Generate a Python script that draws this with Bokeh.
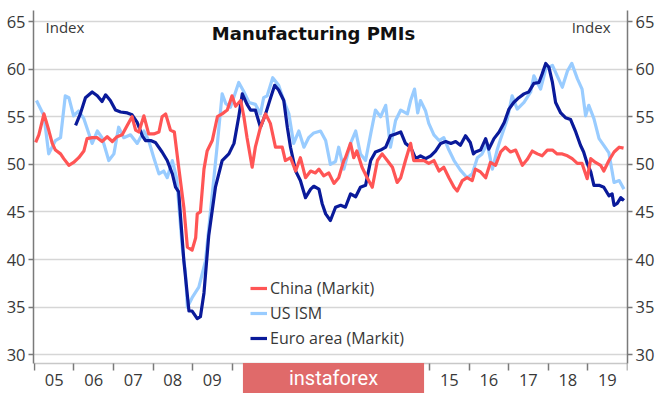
from bokeh.plotting import figure
from bokeh.models import (Range1d, LinearAxis, FixedTicker, Label, Legend, LegendItem)
from bokeh.embed import file_html
from bokeh.resources import INLINE

# ---------------- data ----------------
us_t = [2005.05, 2005.24, 2005.36, 2005.53, 2005.66, 2005.78, 2005.87, 2005.99, 2006.12, 2006.25,
        2006.46, 2006.59, 2006.71, 2006.88, 2007.01, 2007.13, 2007.26, 2007.43, 2007.60, 2007.77,
        2007.89, 2008.02, 2008.15, 2008.27, 2008.36, 2008.49, 2008.60, 2008.74, 2008.82, 2008.87,
        2008.99, 2009.16, 2009.33, 2009.50, 2009.63, 2009.75, 2009.84, 2009.96, 2010.17, 2010.29,
        2010.43, 2010.59, 2010.72, 2010.80, 2010.89, 2011.03, 2011.18, 2011.31, 2011.44, 2011.56,
        2011.69, 2011.82, 2011.94, 2012.07, 2012.24, 2012.37, 2012.49, 2012.62, 2012.70, 2012.83,
        2013.00, 2013.13, 2013.25, 2013.38, 2013.51, 2013.63, 2013.76, 2013.89, 2014.01, 2014.14,
        2014.27, 2014.44, 2014.52, 2014.62, 2014.70, 2014.77, 2014.90, 2014.98, 2015.11, 2015.24,
        2015.36, 2015.49, 2015.62, 2015.78, 2015.95, 2016.08, 2016.21, 2016.33, 2016.46, 2016.59,
        2016.71, 2016.80, 2016.97, 2017.09, 2017.22, 2017.39, 2017.56, 2017.64, 2017.81, 2017.94,
        2018.11, 2018.23, 2018.36, 2018.49, 2018.60, 2018.74, 2018.86, 2018.95, 2019.03, 2019.16,
        2019.29, 2019.41, 2019.54, 2019.67, 2019.80, 2019.92]
us_v = [56.7, 55.1, 51.1, 52.5, 52.8, 57.2, 57.0, 55.1, 55.6, 54.8,
        52.2, 53.5, 52.8, 50.4, 51.1, 53.9, 52.8, 53.1, 52.2, 53.5,
        52.5, 50.7, 49.0, 49.3, 48.6, 50.4, 48.5, 41.3, 38.7, 35.0,
        36.0, 37.1, 39.9, 46.9, 52.2, 57.4, 56.4, 56.0, 58.6, 57.7,
        56.5, 56.3, 55.3, 57.0, 57.2, 59.1, 58.3, 56.7, 55.3, 52.2,
        53.5, 51.8, 52.8, 53.3, 53.5, 52.5, 50.0, 50.3, 51.8, 49.5,
        52.2, 53.5, 51.1, 50.4, 53.2, 55.7, 55.0, 56.2, 51.8, 54.6,
        55.7, 55.3, 56.7, 57.9, 55.4, 56.7, 55.6, 54.3, 53.1, 52.5,
        52.8, 51.5, 50.4, 49.4, 48.6, 49.0, 50.7, 51.1, 52.2, 49.5,
        51.5, 52.7, 54.8, 57.2, 55.8, 56.5, 57.6, 59.3, 57.9, 60.0,
        60.4, 59.3, 58.1, 59.8, 60.6, 59.0, 57.9, 55.1, 56.2, 54.8,
        52.7, 52.0, 51.2, 48.1, 48.3, 47.4]

euro_t = [2006.04, 2006.16, 2006.29, 2006.46, 2006.59, 2006.71, 2006.80, 2006.92, 2007.05, 2007.18,
          2007.35, 2007.47, 2007.60, 2007.73, 2007.81, 2007.94, 2008.06, 2008.23, 2008.36, 2008.49,
          2008.57, 2008.65, 2008.78, 2008.91, 2008.99, 2009.12, 2009.20, 2009.29, 2009.41, 2009.58,
          2009.75, 2009.92, 2010.05, 2010.17, 2010.26, 2010.38, 2010.47, 2010.59, 2010.72, 2010.85,
          2010.97, 2011.08, 2011.18, 2011.31, 2011.40, 2011.48, 2011.61, 2011.73, 2011.86, 2011.99,
          2012.07, 2012.20, 2012.28, 2012.37, 2012.49, 2012.62, 2012.75, 2012.87, 2013.00, 2013.13,
          2013.25, 2013.38, 2013.51, 2013.63, 2013.76, 2013.89, 2014.01, 2014.14, 2014.27, 2014.39,
          2014.52, 2014.65, 2014.77, 2014.90, 2015.03, 2015.15, 2015.28, 2015.41, 2015.54, 2015.66,
          2015.78, 2015.91, 2016.03, 2016.11, 2016.16, 2016.29, 2016.42, 2016.50, 2016.63, 2016.76,
          2016.89, 2017.01, 2017.13, 2017.26, 2017.39, 2017.51, 2017.64, 2017.77, 2017.85, 2017.94,
          2018.02, 2018.11, 2018.19, 2018.32, 2018.44, 2018.57, 2018.70, 2018.82, 2018.90, 2018.99,
          2019.08, 2019.16, 2019.29, 2019.41, 2019.54, 2019.62, 2019.67, 2019.75, 2019.84, 2019.92]
euro_v = [54.1, 55.3, 57.0, 57.6, 57.2, 56.6, 57.3, 56.7, 55.7, 55.5,
          55.4, 55.2, 54.4, 53.0, 52.5, 52.5, 52.3, 51.3, 50.4, 49.0,
          47.6, 47.1, 39.9, 34.6, 34.6, 33.8, 34.0, 36.5, 42.5, 47.6,
          50.4, 51.1, 52.2, 55.0, 57.4, 56.3, 55.7, 55.7, 53.9, 55.3,
          56.9, 58.3, 57.8, 56.7, 53.9, 51.8, 49.3, 48.3, 46.5, 47.4,
          47.7, 47.4, 45.9, 44.8, 44.1, 45.5, 45.7, 45.5, 46.9, 46.6,
          47.6, 47.8, 50.4, 51.3, 51.5, 51.8, 53.0, 53.2, 53.4, 52.2,
          51.8, 50.6, 50.9, 50.6, 50.9, 51.4, 52.2, 52.4, 52.2, 52.4,
          52.0, 53.0, 52.3, 51.1, 51.3, 51.5, 52.7, 51.6, 52.7, 53.4,
          54.4, 55.8, 56.5, 57.0, 57.4, 57.6, 58.5, 58.6, 59.5, 60.6,
          60.2, 58.6, 56.5, 55.4, 54.9, 54.7, 53.4, 52.0, 51.3, 50.1,
          49.2, 47.8, 47.8, 47.6, 46.7, 46.9, 45.7, 45.9, 46.5, 46.2]

china_t = [2005.03, 2005.11, 2005.24, 2005.36, 2005.45, 2005.53, 2005.66, 2005.74, 2005.87, 2005.99,
           2006.12, 2006.25, 2006.33, 2006.46, 2006.59, 2006.71, 2006.84, 2006.97, 2007.09, 2007.22,
           2007.35, 2007.47, 2007.56, 2007.64, 2007.77, 2007.89, 2008.02, 2008.15, 2008.23, 2008.32,
           2008.44, 2008.54, 2008.65, 2008.78, 2008.87, 2008.99, 2009.08, 2009.12, 2009.20, 2009.29,
           2009.37, 2009.50, 2009.63, 2009.75, 2009.88, 2010.00, 2010.09, 2010.22, 2010.30, 2010.38,
           2010.51, 2010.59, 2010.72, 2010.85, 2010.97, 2011.10, 2011.27, 2011.35, 2011.48, 2011.61,
           2011.73, 2011.86, 2011.99, 2012.11, 2012.20, 2012.32, 2012.45, 2012.58, 2012.70, 2012.83,
           2012.87, 2013.00, 2013.08, 2013.16, 2013.29, 2013.42, 2013.55, 2013.68, 2013.80, 2013.93,
           2014.06, 2014.18, 2014.27, 2014.39, 2014.52, 2014.60, 2014.73, 2014.86, 2014.98, 2015.11,
           2015.24, 2015.36, 2015.49, 2015.62, 2015.70, 2015.83, 2015.95, 2016.08, 2016.16, 2016.29,
           2016.42, 2016.54, 2016.67, 2016.80, 2016.92, 2017.05, 2017.18, 2017.35, 2017.47, 2017.60,
           2017.73, 2017.85, 2017.98, 2018.11, 2018.23, 2018.36, 2018.49, 2018.61, 2018.74, 2018.86,
           2018.99, 2019.08, 2019.20, 2019.33, 2019.41, 2019.54, 2019.67, 2019.80, 2019.91]
china_v = [52.3, 53.1, 55.3, 53.6, 52.2, 51.5, 51.1, 50.6, 49.9, 50.2,
           50.7, 51.4, 52.7, 52.8, 52.8, 52.4, 52.9, 52.4, 52.9, 53.1,
           54.1, 55.0, 53.6, 53.4, 55.1, 53.2, 53.2, 53.4, 55.0, 55.3,
           53.6, 53.4, 49.7, 45.5, 41.3, 41.0, 42.3, 44.8, 45.0, 49.5,
           51.4, 52.5, 55.0, 55.3, 55.7, 57.2, 56.1, 56.7, 55.0, 52.8,
           49.7, 51.8, 53.9, 55.3, 54.3, 51.8, 51.8, 50.4, 50.7, 49.3,
           50.7, 48.6, 49.3, 49.1, 49.5, 48.8, 49.1, 48.0, 48.6, 50.4,
           50.7, 52.2, 50.7, 51.4, 49.7, 48.6, 47.6, 50.4, 51.1, 50.4,
           49.7, 48.1, 48.6, 50.4, 52.2, 50.4, 50.4, 50.4, 50.1, 50.4,
           49.3, 49.7, 48.6, 47.6, 47.2, 48.3, 48.6, 48.3, 49.5, 49.2,
           48.6, 50.2, 49.9, 51.3, 51.8, 51.3, 51.5, 49.9, 50.5, 51.4,
           51.1, 50.9, 51.5, 51.5, 51.1, 51.1, 50.9, 50.6, 50.1, 50.1,
           48.5, 50.6, 50.2, 49.9, 49.3, 50.4, 51.3, 51.8, 51.7]

y_ticks = [30, 35, 40, 45, 50, 55, 60, 65]
year_starts = list(range(2005, 2021))
year_labels = ["05", "06", "07", "08", "09", "10", "11", "12", "13", "14",
               "15", "16", "17", "18", "19"]

FONT = "Open Sans"
AXIS_GREY = "#7a7a7a"
TEXT = "#383838"
Y_TOP = 66.155
Y_AXIS = 29.086      # level at which the x axis line sits
Y_BOTTOM = 25.94     # bottom of the drawing area (room for the year labels)

p = figure(width=664, height=393, output_backend="svg", toolbar_location=None,
           x_range=Range1d(2004.975, 2020.01), y_range=Range1d(Y_BOTTOM, Y_TOP),
           min_border_left=33, min_border_right=37, min_border_top=10, min_border_bottom=0)
p.outline_line_color = None
p.background_fill_color = "white"
p.border_fill_color = "white"

p.xgrid.grid_line_color = None
p.ygrid.grid_line_color = "#d6d6d6"
p.ygrid.grid_line_width = 1.5

yt = FixedTicker(ticks=y_ticks)
p.yaxis.ticker = yt
p.ygrid.ticker = yt


def style_y(ax):
    ax.bounds = (Y_AXIS, Y_TOP)
    ax.axis_line_color = AXIS_GREY
    ax.axis_line_width = 1.5
    ax.major_tick_line_color = AXIS_GREY
    ax.major_tick_line_width = 1.5
    ax.major_tick_out = 5
    ax.major_tick_in = 0
    ax.minor_tick_line_color = None
    ax.major_label_text_font = FONT
    ax.major_label_text_font_size = "16.5px"
    ax.major_label_text_color = TEXT
    ax.major_label_standoff = 3


for ax in p.yaxis:
    style_y(ax)

ry = LinearAxis(ticker=FixedTicker(ticks=y_ticks))
style_y(ry)
p.add_layout(ry, "right")

mid_years = [y + 0.5 for y in year_starts[:-1]]
xt = FixedTicker(ticks=mid_years, minor_ticks=year_starts)
xa = p.xaxis[0]
xa.ticker = xt
xa.fixed_location = Y_AXIS
xa.major_label_overrides = {m: lab for m, lab in zip(mid_years, year_labels)}
xa.axis_line_color = "#c8c8c8"
xa.axis_line_width = 1.5
xa.major_tick_line_color = None
xa.minor_tick_line_color = AXIS_GREY
xa.minor_tick_line_width = 1.5
xa.minor_tick_out = 7
xa.minor_tick_in = 0
xa.major_label_text_font = FONT
xa.major_label_text_font_size = "16.5px"
xa.major_label_text_color = TEXT
xa.major_label_standoff = 3

r_us = p.line(us_t, us_v, line_color="#99ccff", line_width=3.2, line_join="round")
r_eu = p.line(euro_t, euro_v, line_color="#0a1a9a", line_width=3.2, line_join="round")
r_cn = p.line(china_t, china_v, line_color="#ff5555", line_width=3.2, line_join="round")

legend = Legend(items=[LegendItem(label="China (Markit)", renderers=[r_cn]),
                       LegendItem(label="US ISM", renderers=[r_us]),
                       LegendItem(label="Euro area (Markit)", renderers=[r_eu])],
                location=(217, 44), orientation="vertical")
legend.background_fill_alpha = 0
legend.border_line_color = None
legend.padding = 0
legend.margin = 0
legend.spacing = 3
legend.label_height = 20
legend.glyph_height = 20
legend.glyph_width = 17
legend.label_standoff = 3
legend.label_text_font = FONT
legend.label_text_font_size = "16px"
legend.label_text_color = TEXT
p.add_layout(legend, "center")

p.add_layout(Label(x=280, y=360, x_units="screen", y_units="screen", text="Manufacturing PMIs",
                   text_font="DejaVu Sans", text_font_style="bold", text_font_size="18px",
                   text_color="#111111", text_align="center", text_baseline="middle"))
p.add_layout(Label(x=12, y=367, x_units="screen", y_units="screen", text="Index",
                   text_font=FONT, text_font_size="15px", text_color=TEXT,
                   text_align="left", text_baseline="middle"))
p.add_layout(Label(x=577, y=367, x_units="screen", y_units="screen", text="Index",
                   text_font=FONT, text_font_size="15px", text_color=TEXT,
                   text_align="right", text_baseline="middle"))

# watermark present in the reference image
p.add_layout(Label(x=300, y=15.5, x_units="screen", y_units="screen", text="instaforex",
                   text_font="Roboto", text_font_size="20px", text_color="white",
                   text_align="center", text_baseline="middle", level="overlay",
                   background_fill_color="#e06a6a",
                   padding=dict(left=46, right=46, top=3, bottom=3)))

open("out.html", "w").write(file_html(p, INLINE))
